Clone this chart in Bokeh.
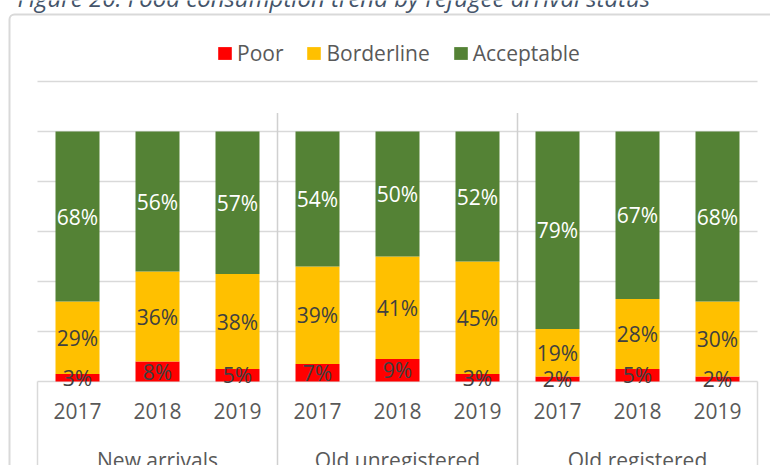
from bokeh.plotting import figure
from bokeh.models import (ColumnDataSource, Range1d, LinearAxis, FixedTicker, Label,
                          BoxAnnotation, Grid)
from bokeh.core.properties import value
from bokeh.embed import file_html
from bokeh.resources import INLINE

# ---------------- data ----------------
groups = ["New arrivals", "Old unregistered", "Old registered"]
years = ["2017", "2018", "2019"]
series = ["Poor", "Borderline", "Acceptable"]
poor = [3, 8, 5, 7, 9, 3, 2, 5, 2]
borderline = [29, 36, 38, 39, 41, 45, 19, 28, 30]
acceptable = [68, 56, 57, 54, 50, 52, 79, 67, 68]
y_ticks = [0, 20, 40, 60, 80, 100, 120]
title_text = "Figure 20: Food consumption trend by refugee arrival status"

colors = ["#FF0000", "#FFC000", "#548235"]
label_colors = ["#404040", "#404040", "#FFFFFF"]
FONT = "Open Sans"
TXT = "#595959"
GRID = "#D9D9D9"

# category positions (two x-units per bar slot)
n_cat = len(groups) * len(years)
centers = [2 * i + 1 for i in range(n_cat)]
year_labels = {c: years[i % len(years)] for i, c in enumerate(centers)}
group_centers = [2 * len(years) * k + len(years) for k in range(len(groups))]
group_labels = {c: g for c, g in zip(group_centers, groups)}
bounds_all = [2 * len(years) * k for k in range(len(groups) + 1)]
bounds_inner = bounds_all[1:-1]
bounds_outer = [bounds_all[0], bounds_all[-1]]

# ---------------- geometry ----------------
W, H = 770, 465
PX = 2.5            # pixels per percent
ZERO = 381          # canvas y of 0 %
UNIT = 40           # pixels per x unit
PLOT_LEFT = 37
y_start = -(H - ZERO) / PX
y_end = ZERO / PX
x_start = -PLOT_LEFT / UNIT
x_end = (W - PLOT_LEFT) / UNIT

p = figure(width=W, height=H, x_range=Range1d(x_start, x_end), y_range=Range1d(y_start, y_end),
           x_axis_type=None, output_backend="svg", toolbar_location=None)
p.min_border = 0
p.outline_line_color = None
p.background_fill_color = "white"
p.border_fill_color = "white"
p.yaxis.visible = False

# horizontal gridlines, limited to the category span
if "cross_bounds" in Grid.properties():
    p.ygrid.ticker = FixedTicker(ticks=y_ticks)
    p.ygrid.grid_line_color = GRID
    p.ygrid.grid_line_width = 1.5
    p.ygrid.cross_bounds = (bounds_all[0], bounds_all[-1])
else:
    p.ygrid.visible = False
    p.segment(x0=[bounds_all[0]] * len(y_ticks), x1=[bounds_all[-1]] * len(y_ticks),
              y0=y_ticks, y1=y_ticks, line_color=GRID, line_width=1.5)

# ---------------- bars ----------------
src = ColumnDataSource(dict(x=centers, Poor=poor, Borderline=borderline, Acceptable=acceptable))
p.vbar_stack(series, x="x", width=1.1, color=colors, source=src, line_color=None,
             legend_label=series)

# ---------------- data labels ----------------
lx, ly, lt, lc = [], [], [], []
for i, c in enumerate(centers):
    base = 0
    for vals, col in zip([poor, borderline, acceptable], label_colors):
        v = vals[i]
        lx.append(c)
        ly.append(base + v / 2)
        lt.append(f"{v}%")
        lc.append(col)
        base += v
lsrc = ColumnDataSource(dict(x=lx, y=ly, t=lt, c=lc))
p.text(x="x", y="y", text="t", text_color="c", source=lsrc, text_align="center",
       text_baseline="middle", text_font=value(FONT), text_font_size="21px")

# ---------------- group boundary lines ----------------
p.segment(x0=bounds_inner, x1=bounds_inner, y0=[y_start] * len(bounds_inner),
          y1=[107.4] * len(bounds_inner), line_color="#D0D0D0", line_width=1.5)
p.segment(x0=bounds_outer, x1=bounds_outer, y0=[y_start] * 2, y1=[0] * 2,
          line_color=GRID, line_width=1.5)

# ---------------- category axes ----------------
ax_years = LinearAxis(fixed_location=0, ticker=FixedTicker(ticks=centers),
                      major_label_overrides=year_labels, major_label_standoff=21,
                      major_tick_out=0, major_tick_in=0, axis_line_color=None,
                      major_tick_line_color=None, minor_tick_line_color=None,
                      major_label_text_font_size="21px", major_label_text_color=TXT,
                      major_label_text_font=FONT)
p.add_layout(ax_years, "below")

ax_groups = LinearAxis(fixed_location=0, ticker=FixedTicker(ticks=group_centers),
                       major_label_overrides=group_labels, major_label_standoff=64,
                       major_tick_out=0, major_tick_in=0, axis_line_color=None,
                       major_tick_line_color=None, minor_tick_line_color=None,
                       major_label_text_font_size="21px", major_label_text_color=TXT,
                       major_label_text_font=FONT)
p.add_layout(ax_groups, "below")

# ---------------- chart border ----------------
bkw = dict(left=(9 - PLOT_LEFT) / UNIT, right=x_end + 1, top=(ZERO - 14) / PX,
           bottom=y_start - 10, fill_color=None, line_color=GRID, line_alpha=1, line_width=2)
if "border_radius" in BoxAnnotation.properties():
    bkw["border_radius"] = 5
p.add_layout(BoxAnnotation(**bkw))

# ---------------- title (cut off at top, as in the original) ----------------
title = Label(x=17, y=H + 3.5, x_units="screen", y_units="screen", text=title_text,
              text_font=FONT, text_font_style="italic", text_font_size="24px",
              text_color="#44546A", text_baseline="alphabetic")
p.add_layout(title)

# ---------------- legend ----------------
leg = p.legend[0]
leg.orientation = "horizontal"
leg.location = (216, 398)
leg.glyph_width = 17
leg.glyph_height = 16
leg.label_standoff = 4
leg.spacing = 22
leg.padding = 0
leg.margin = 0
leg.border_line_color = None
leg.background_fill_alpha = 0
leg.label_text_font = FONT
leg.label_text_font_size = "21px"
leg.label_text_color = TXT

open("out.html", "w").write(file_html(p, INLINE))
